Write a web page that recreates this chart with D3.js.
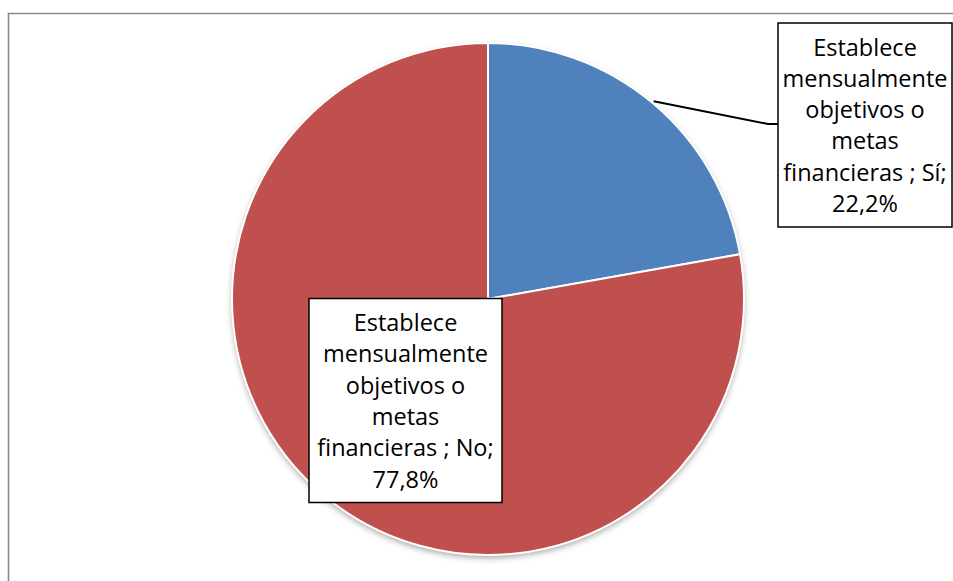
<!DOCTYPE html>
<html>
<head>
<meta charset="utf-8">
<script src="https://cdn.jsdelivr.net/npm/d3@7"></script>
<style>
  html, body { margin: 0; padding: 0; background: #fff; }
  svg { display: block; }
</style>
</head>
<body>
<svg id="chart" width="953" height="581"></svg>
<script>
// Survey answers: "Establece mensualmente objetivos o metas financieras"
const categories = ["Sí", "No"];
const values = [22.2, 77.8];
const colors = ["#4F81BD", "#C0504D"];

const svg = d3.select("#chart");
const W = 953, H = 581;
const cx = 488, cy = 299, R = 256;
const fontFamily = "'Open Sans', Lato, sans-serif";

// chart frame (left and top edges visible)
svg.append("path")
  .attr("d", `M8.5,${H} L8.5,13.5 L${W},13.5`)
  .attr("fill", "none")
  .attr("stroke", "#8a8a8a")
  .attr("stroke-width", 1.6);

const defs = svg.append("defs");
const shadow = defs.append("filter").attr("id", "pieShadow")
  .attr("x", "-10%").attr("y", "-10%").attr("width", "120%").attr("height", "125%");
shadow.append("feDropShadow")
  .attr("dx", 0).attr("dy", 3).attr("stdDeviation", 3)
  .attr("flood-color", "#000").attr("flood-opacity", 0.35);

const data = categories.map((c, i) => ({ cat: c, value: values[i], color: colors[i] }));

const pie = d3.pie().sort(null).value(d => d.value);
const arcs = pie(data);
const arc = d3.arc().innerRadius(0).outerRadius(R);

const g = svg.append("g").attr("transform", `translate(${cx},${cy})`);

// shadow behind the full disc
g.append("circle").attr("r", R).attr("fill", "#fff").attr("filter", "url(#pieShadow)");

g.selectAll("path.slice")
  .data(arcs)
  .join("path")
  .attr("class", "slice")
  .attr("d", arc)
  .attr("fill", d => d.data.color)
  .attr("stroke", "#fff")
  .attr("stroke-width", 2)
  .attr("stroke-linejoin", "round");

// label text lines for each slice
function labelLines(d) {
  return ["Establece", "mensualmente", "objetivos o", "metas",
          `financieras ; ${d.cat};`, `${d.value.toFixed(1).replace(".", ",")}%`];
}

// label boxes (absolute positions in the chart area)
const boxes = {
  "Sí": { x: 778, y: 23, w: 174, h: 204 },
  "No": { x: 309, y: 298.5, w: 193, h: 204 }
};
const lineStep = 31.3;
const firstBaseline = 32.5;

// leader line for the small slice: from the arc edge at the slice middle to the box
const si = arcs[0];
const midA = (si.startAngle + si.endAngle) / 2;
const ex = cx + (R + 2) * Math.sin(midA), ey = cy - (R + 2) * Math.cos(midA);
svg.append("polyline")
  .attr("points", `${ex},${ey} ${boxes["Sí"].x - 10},124 ${boxes["Sí"].x},124`)
  .attr("fill", "none")
  .attr("stroke", "#000")
  .attr("stroke-width", 2);

arcs.forEach(d => {
  const b = boxes[d.data.cat];
  svg.append("rect")
    .attr("x", b.x).attr("y", b.y).attr("width", b.w).attr("height", b.h)
    .attr("fill", "#fff").attr("stroke", "#000").attr("stroke-width", 1.5);
  const t = svg.append("text")
    .attr("font-family", fontFamily)
    .attr("font-size", 23.5)
    .attr("fill", "#000")
    .attr("text-anchor", "middle");
  labelLines(d.data).forEach((ln, i) => {
    t.append("tspan")
      .attr("x", b.x + b.w / 2)
      .attr("y", b.y + firstBaseline + i * lineStep)
      .text(ln);
  });
});
</script>
</body>
</html>
